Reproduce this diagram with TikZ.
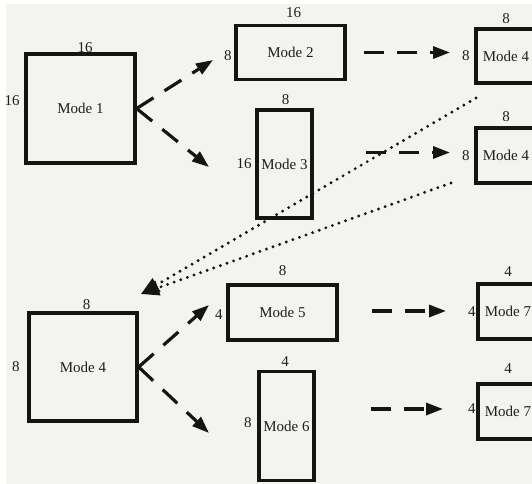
\documentclass[tikz,border=0pt]{standalone}
\usepackage{fontspec}
\setmainfont{Liberation Serif}
\usetikzlibrary{arrows.meta,positioning}
\definecolor{bg}{HTML}{F3F3F0}
\definecolor{ink}{HTML}{141414}
\definecolor{txt}{HTML}{1E1E1E}
\begin{document}
\begin{tikzpicture}[x=1pt,y=-1pt,
  modebox/.style={draw=ink,line width=3.2pt,inner sep=0pt,font=\fontsize{15}{18}\selectfont,text=txt},
  dimlab/.style={inner sep=0pt,font=\fontsize{15}{18}\selectfont,text=txt},
  dasharrow/.style={draw=ink,line width=3.2pt,dash pattern=on 20pt off 13pt,-{Triangle[length=17pt,width=12pt]}},
  dotarrow/.style={draw=ink,line width=3.2pt,line cap=round,dash pattern=on 0pt off 7pt,-{Triangle[length=18pt,width=15pt]}}]
\useasboundingbox (0,0) rectangle (532,483);
\fill[white] (0,0) rectangle (532,483);
\fill[bg] (6,4) rectangle (540,490);

% boxes
\node[modebox,minimum width=109pt,minimum height=109pt] (m1) at (80.5,108.5) {Mode 1};
\node[modebox,minimum width=109pt,minimum height=54pt] (m2) at (290.5,52.5) {Mode 2};
\node[modebox,minimum width=55pt,minimum height=108pt] (m3) at (284.5,164) {Mode 3};
\node[modebox,minimum width=60pt,minimum height=54pt] (m4a) at (506,56) {Mode 4};
\node[modebox,minimum width=60pt,minimum height=55pt] (m4b) at (506,155.5) {Mode 4};
\node[modebox,minimum width=108pt,minimum height=108pt] (m4c) at (83,367) {Mode 4};
\node[modebox,minimum width=109pt,minimum height=55pt] (m5) at (282.5,312.5) {Mode 5};
\node[modebox,minimum width=55pt,minimum height=109pt] (m6) at (286.5,426) {Mode 6};
\node[modebox,minimum width=60pt,minimum height=55pt] (m7a) at (508,311.5) {Mode 7};
\node[modebox,minimum width=60pt,minimum height=55pt] (m7b) at (508,411.5) {Mode 7};

% size labels
\node[dimlab,above=0pt of m1,xshift=4.5pt] (m1t) {16};
\node[dimlab,left=4.5pt of m1,yshift=8pt] (m1l) {16};
\node[dimlab,above=6.5pt of m2,xshift=3pt] (m2t) {16};
\node[dimlab,left=2.5pt of m2,yshift=-3pt] (m2l) {8};
\node[dimlab,above=4pt of m3,xshift=1pt] (m3t) {8};
\node[dimlab,left=3.5pt of m3] (m3l) {16};
\node[dimlab,above=4pt of m4a] (m4at) {8};
\node[dimlab,left=4.5pt of m4a] (m4al) {8};
\node[dimlab,above=5pt of m4b] (m4bt) {8};
\node[dimlab,left=4.5pt of m4b] (m4bl) {8};
\node[dimlab,above=2pt of m4c,xshift=3.5pt] (m4ct) {8};
\node[dimlab,left=7.5pt of m4c] (m4cl) {8};
\node[dimlab,above=8pt of m5] (m5t) {8};
\node[dimlab,left=3.5pt of m5,yshift=-2.5pt] (m5l) {4};
\node[dimlab,above=3pt of m6,xshift=-1.5pt] (m6t) {4};
\node[dimlab,left=5.5pt of m6,yshift=3.5pt] (m6l) {8};
\node[dimlab,above=6pt of m7a] (m7at) {4};
\node[dimlab,left=0.5pt of m7a] (m7al) {4};
\node[dimlab,above=9pt of m7b] (m7bt) {4};
\node[dimlab,left=0.5pt of m7b,yshift=2.5pt] (m7bl) {4};

% arrow end points
\coordinate (e12) at (213,60);
\coordinate (e13) at (209,167);
\coordinate (e45) at (209,305);
\coordinate (e46) at (209,433);
\coordinate (s24) at (364,52.5);
\coordinate (t24) at (450,52.5);
\coordinate (s34) at (366,152.5);
\coordinate (t34) at (450,152.5);
\coordinate (s57) at (372,311);
\coordinate (t57) at (446,311);
\coordinate (s67) at (371,409);
\coordinate (t67) at (443,409);
\coordinate (d1) at (476,98);
\coordinate (d2) at (451,183);
\coordinate (dt) at (141,294);

% dashed arrows
\draw[dasharrow] (m1.east) -- (e12);
\draw[dasharrow] (m1.east) -- (e13);
\draw[dasharrow] (m4c.east) -- (e45);
\draw[dasharrow] (m4c.east) -- (e46);
\draw[dasharrow] (s24) -- (t24);
\draw[dasharrow] (s34) -- (t34);
\draw[dasharrow] (s57) -- (t57);
\draw[dasharrow] (s67) -- (t67);

% dotted arrows
\draw[dotarrow] (d1) -- (dt);
\draw[dotarrow] (d2) -- (dt);
\end{tikzpicture}
\end{document}
